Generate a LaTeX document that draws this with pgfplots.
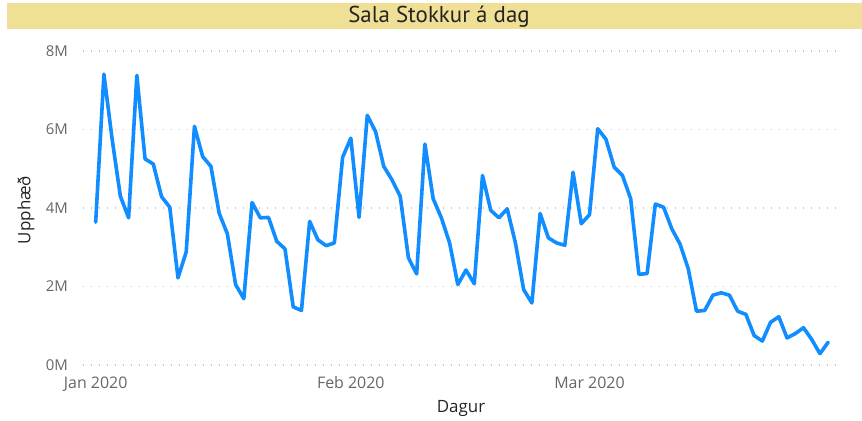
\documentclass[border=0pt]{standalone}
\usepackage{fontspec}
\setmainfont{Open Sans}
\newfontfamily\titlefont{PT Sans}
\usepackage{pgfplots}
\pgfplotsset{compat=1.18}
\definecolor{pbiblue}{HTML}{118DFF}
\definecolor{titlebg}{RGB}{240,224,150}
\definecolor{ticklab}{HTML}{666666}
\definecolor{gridc}{HTML}{C8C6C4}
\definecolor{labc}{HTML}{252423}
\begin{document}
\begin{tikzpicture}[x=1bp,y=1bp]
\path[use as bounding box] (0,0) rectangle (862,420);
\fill[titlebg] (7,391) rectangle (862,416.5);
\node[font=\titlefont\fontsize{23}{26}\selectfont, text=labc, anchor=base, inner sep=0pt] at (439,397.3) {Sala Stokkur á dag};
\node[font=\fontsize{17}{20}\selectfont, text=labc] at (461,12) {Dagur};
\node[font=\fontsize{17}{20}\selectfont, text=labc, rotate=90] at (26,210) {Upphæð};
\begin{axis}[
  at={(82.6bp,55bp)}, anchor=south west,
  width=752.4bp, height=314bp, scale only axis,
  xmin=-1.59, xmax=89.83, ymin=0, ymax=8,
  axis line style={draw=none},
  major tick style={draw=none},
  minor tick style={draw=none},
  ytick={0,2,4,6,8}, yticklabels={0M,2M,4M,6M,8M},
  xtick={0,31,60}, xticklabels={Jan 2020,Feb 2020,Mar 2020},
  ymajorgrids,
  grid style={gridc, line width=1.3bp, dash pattern=on 1.3bp off 6.7bp},
  /pgf/number format/assume math mode=true,
  yticklabel style={font=\fontsize{15}{18}\selectfont, text=ticklab, anchor=east, inner sep=0pt, xshift=-14.6bp},
  xticklabel style={font=\fontsize{16}{19}\selectfont, text=ticklab, anchor=north, inner sep=0pt, yshift=-11.5bp},
  clip=false,
]
\addplot[pbiblue, line width=3.6bp, line join=round, line cap=round] coordinates {
(0,3.64) (1,7.41) (2,5.75) (3,4.30) (4,3.75) (5,7.38) (6,5.25) (7,5.12) (8,4.29) (9,4.02)
(10,2.22) (11,2.88) (12,6.08) (13,5.31) (14,5.06) (15,3.87) (16,3.34) (17,2.05) (18,1.69) (19,4.14)
(20,3.75) (21,3.76) (22,3.15) (23,2.96) (24,1.48) (25,1.39) (26,3.66) (27,3.19) (28,3.04) (29,3.11)
(30,5.29) (31,5.78) (32,3.76) (33,6.36) (34,5.95) (35,5.06) (36,4.72) (37,4.30) (38,2.73) (39,2.32)
(40,5.63) (41,4.24) (42,3.75) (43,3.11) (44,2.05) (45,2.42) (46,2.07) (47,4.83) (48,3.94) (49,3.75)
(50,3.98) (51,3.11) (52,1.92) (53,1.58) (54,3.86) (55,3.24) (56,3.11) (57,3.05) (58,4.91) (59,3.60)
(60,3.83) (61,6.02) (62,5.75) (63,5.04) (64,4.83) (65,4.24) (66,2.31) (67,2.33) (68,4.10) (69,4.02)
(70,3.47) (71,3.08) (72,2.45) (73,1.37) (74,1.39) (75,1.78) (76,1.84) (77,1.78) (78,1.37) (79,1.29)
(80,0.75) (81,0.61) (82,1.09) (83,1.23) (84,0.69) (85,0.80) (86,0.95) (87,0.65) (88,0.29) (89,0.58)
};
\end{axis}
\end{tikzpicture}
\end{document}
